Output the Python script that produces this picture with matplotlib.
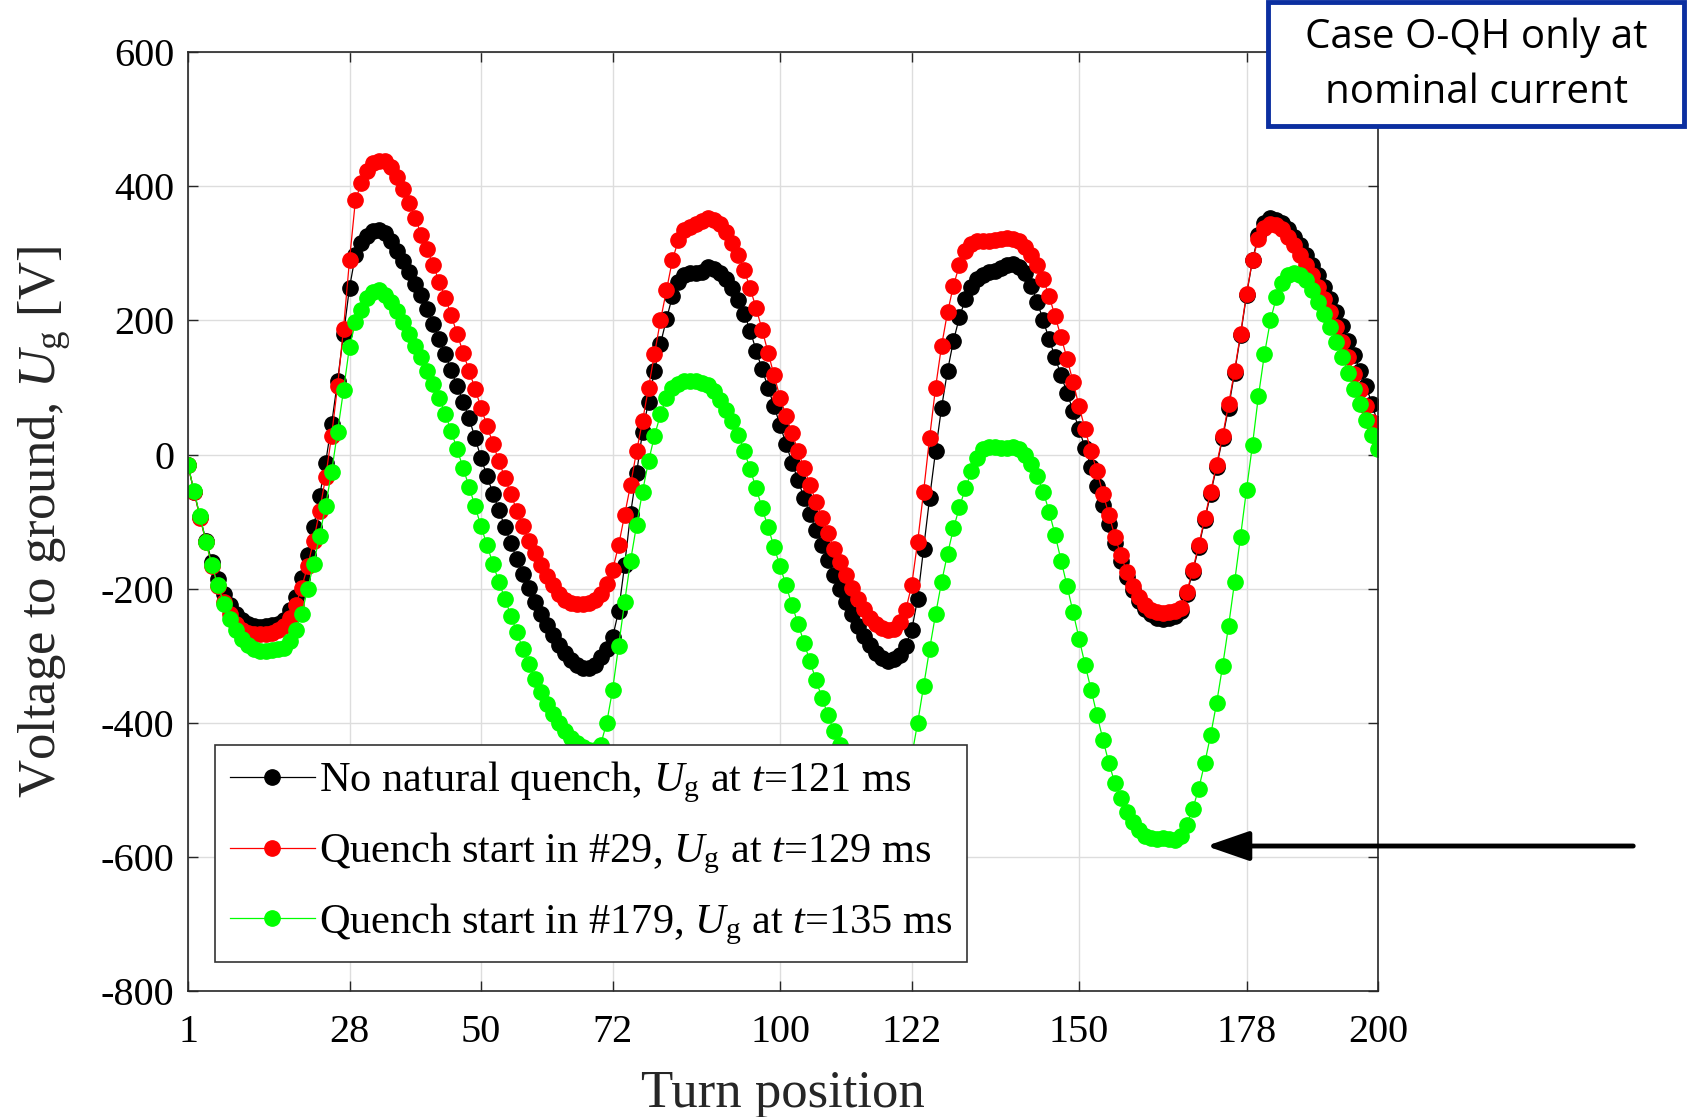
import matplotlib
matplotlib.use("Agg")
import matplotlib.pyplot as plt
from matplotlib.patches import Rectangle, FancyArrowPatch

plt.rcParams['font.family'] = ['Liberation Serif', 'DejaVu Serif']
plt.rcParams['mathtext.fontset'] = 'custom'
plt.rcParams['mathtext.rm'] = 'Liberation Serif'
plt.rcParams['mathtext.it'] = 'Liberation Serif:italic'
plt.rcParams['axes.unicode_minus'] = False

# turn positions 1..200
turns = list(range(1, 201))

# No natural quench, Ug at t=121 ms
u_no_quench = [
    -16, -55, -93, -128, -160, -186, -207, -224, -237, -246,
    -252, -256, -257, -256, -254, -252, -246, -232, -212, -184,
    -150, -108, -62, -12, 45, 110, 180, 249, 298, 315,
    326, 333, 335, 330, 318, 303, 289, 272, 255, 238,
    217, 195, 172, 150, 126, 102, 79, 54, 25, -5,
    -32, -58, -83, -108, -132, -156, -178, -199, -220, -238,
    -254, -269, -284, -295, -306, -313, -318, -318, -313, -302,
    -290, -272, -233, -165, -88, -28, 34, 79, 125, 165,
    202, 236, 257, 268, 270, 270, 272, 279, 276, 270,
    262, 248, 230, 210, 185, 155, 127, 100, 72, 44,
    16, -12, -38, -64, -89, -112, -135, -157, -180, -200,
    -220, -238, -255, -270, -283, -295, -303, -307, -305, -298,
    -285, -262, -215, -140, -65, 5, 70, 125, 170, 205,
    232, 250, 262, 268, 272, 274, 278, 282, 284, 280,
    270, 252, 228, 200, 172, 145, 118, 92, 65, 38,
    10, -18, -46, -75, -104, -132, -158, -182, -202, -218,
    -230, -238, -243, -245, -244, -241, -233, -208, -175, -138,
    -98, -58, -18, 25, 70, 122, 178, 238, 290, 328,
    345, 352, 350, 345, 336, 325, 312, 298, 283, 268,
    250, 232, 212, 192, 170, 148, 125, 102, 75, 45,
]

# Quench start in #29, Ug at t=129 ms
u_quench_29 = [
    -16, -55, -94, -130, -166, -196, -220, -238, -252, -261,
    -266, -268, -268, -268, -266, -262, -256, -243, -224, -198,
    -166, -128, -84, -34, 28, 102, 188, 290, 380, 405,
    422, 434, 438, 437, 428, 414, 396, 375, 352, 328,
    306, 282, 258, 234, 208, 180, 152, 125, 98, 70,
    43, 16, -10, -35, -59, -84, -107, -128, -147, -165,
    -181, -195, -207, -216, -221, -223, -222, -221, -216, -207,
    -193, -172, -135, -90, -45, 5, 50, 100, 150, 200,
    245, 290, 320, 335, 340, 343, 348, 352, 350, 343,
    332, 316, 298, 275, 248, 218, 186, 152, 118, 85,
    58, 32, 6, -20, -45, -70, -94, -117, -140, -160,
    -180, -198, -215, -230, -243, -252, -258, -262, -260, -250,
    -232, -195, -130, -55, 25, 100, 162, 212, 252, 283,
    303, 314, 318, 318, 318, 320, 322, 323, 322, 318,
    310, 298, 282, 262, 236, 206, 175, 143, 108, 72,
    38, 5, -25, -58, -90, -122, -150, -175, -196, -212,
    -224, -231, -235, -236, -235, -233, -228, -205, -172, -135,
    -95, -55, -15, 28, 75, 125, 180, 240, 290, 322,
    338, 343, 342, 336, 325, 312, 298, 283, 268, 250,
    232, 212, 190, 168, 145, 120, 97, 72, 48, 25,
]

# Quench start in #179, Ug at t=135 ms
u_quench_179 = [
    -16, -54, -92, -130, -165, -195, -222, -245, -262, -275,
    -284, -290, -292, -292, -291, -290, -288, -278, -262, -238,
    -200, -163, -121, -76, -26, 34, 96, 161, 197, 216,
    234, 243, 245, 238, 228, 214, 198, 180, 162, 145,
    125, 105, 84, 61, 35, 8, -20, -48, -77, -107,
    -135, -163, -190, -215, -240, -265, -290, -312, -335, -354,
    -372, -387, -400, -412, -422, -430, -436, -440, -440, -432,
    -400, -350, -285, -220, -158, -105, -55, -10, 28, 60,
    85, 100, 106, 110, 110, 110, 107, 104, 95, 82,
    66, 50, 30, 6, -22, -50, -80, -108, -138, -166,
    -195, -224, -252, -280, -308, -336, -362, -388, -412, -432,
    -455, -478, -500, -518, -532, -540, -545, -545, -538, -520,
    -492, -450, -400, -345, -290, -238, -190, -148, -110, -78,
    -50, -25, -5, 8, 12, 12, 10, 10, 11, 8,
    0, -14, -32, -55, -85, -120, -158, -196, -235, -274,
    -313, -350, -388, -425, -460, -490, -512, -532, -548, -560,
    -568, -572, -573, -572, -573, -574, -568, -552, -528, -498,
    -460, -418, -370, -315, -255, -190, -122, -52, 15, 88,
    150, 200, 235, 256, 267, 271, 268, 260, 245, 228,
    210, 190, 168, 145, 122, 98, 75, 52, 30, 8,
]

x_ticks = [1, 28, 50, 72, 100, 122, 150, 178, 200]
y_ticks = [-800, -600, -400, -200, 0, 200, 400, 600]

series = [
    (u_no_quench, "#000000", r"No natural quench, $U_{\rm g}$ at $t$=121 ms"),
    (u_quench_29, "#ff0000", r"Quench start in #29, $U_{\rm g}$ at $t$=129 ms"),
    (u_quench_179, "#00ff00", r"Quench start in #179, $U_{\rm g}$ at $t$=135 ms"),
]

fig = plt.figure(figsize=(16.88, 11.17), dpi=100)
ax = fig.add_axes([0.1114, 0.1124, 0.7050, 0.8410])

for vals, col, lab in series:
    ax.plot(turns, vals, color=col, lw=0.9, marker="o", ms=11,
            mec=col, mfc=col, label=lab)

ax.set_xlim(1, 200)
ax.set_ylim(-800, 600)
ax.set_xticks(x_ticks)
ax.set_yticks(y_ticks)
ax.grid(True, color="#dddddd", lw=1)
ax.set_axisbelow(True)
ax.tick_params(direction="in", length=7, width=1, top=True, right=True,
               labelsize=29, color="#262626", labelcolor="black")
ax.tick_params(axis="x", pad=16)
ax.tick_params(axis="y", pad=10)
for sp in ax.spines.values():
    sp.set_color("#262626")
    sp.set_linewidth(1.2)

ax.set_xlabel("Turn position", fontsize=38, color="#262626", labelpad=14)
ax.set_ylabel(r"Voltage to ground, $U_{\rm g}$ [V]", fontsize=38,
              color="#262626", labelpad=20)

leg = ax.legend(loc="upper left", bbox_to_anchor=(0.1274, 0.333),
                bbox_transform=fig.transFigure, fontsize=30.5, numpoints=1,
                handlelength=2.0, handletextpad=0.1, labelspacing=0.6,
                borderaxespad=0, borderpad=0.35, fancybox=False, framealpha=1)
leg.get_frame().set_edgecolor("#333333")
leg.get_frame().set_linewidth(1.2)

# arrow pointing at the green minimum
fig.add_artist(FancyArrowPatch(
    (0.9692, 0.2426), (0.7130, 0.2426), transform=fig.transFigure,
    arrowstyle="-|>,head_length=1.3,head_width=0.45", lw=3.5, color="black",
    mutation_scale=20))

# case box in the corner
fig.add_artist(Rectangle((0.7512, 0.8870), 0.2464, 0.1115,
                         transform=fig.transFigure, fill=True, fc="white",
                         ec="#0b2fa0", lw=3.5))
fig.text(0.8745, 0.9415, "Case O-QH only at\nnominal current",
         family="Open Sans", fontsize=29, ha="center", va="center",
         linespacing=1.45)

fig.savefig("out.png", dpi=100)
